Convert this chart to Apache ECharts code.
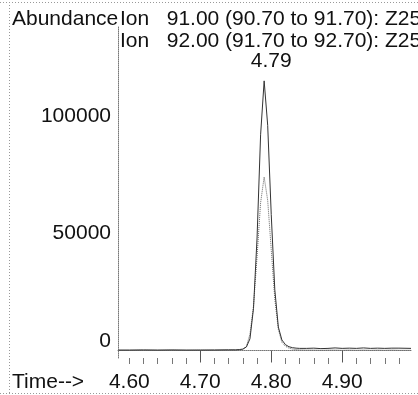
<!DOCTYPE html>
<html>
<head>
<meta charset="utf-8">
<script src="https://cdn.jsdelivr.net/npm/echarts@6/dist/echarts.min.js"></script>
<style>html,body{margin:0;padding:0;background:#fff;}#c{width:418px;height:395px;}</style>
</head>
<body>
<div id="c"></div>
<script>
// Retention time (min)
var times = [4.585, 4.60, 4.62, 4.64, 4.66, 4.68, 4.70, 4.72, 4.74, 4.75, 4.755, 4.76, 4.765, 4.77, 4.775, 4.78, 4.785, 4.79, 4.795, 4.80, 4.805, 4.81, 4.815, 4.82, 4.825, 4.83, 4.835, 4.84, 4.85, 4.86, 4.87, 4.88, 4.89, 4.90, 4.91, 4.92, 4.93, 4.94, 4.95, 4.96, 4.97, 4.98, 4.997];
// Ion 91.00 abundance
var ion91 = [200, 200, 250, 200, 250, 200, 200, 250, 300, 300, 400, 600, 1500, 5000, 18000, 48000, 92000, 115000, 96000, 58000, 26000, 10000, 4500, 2500, 1600, 1200, 1000, 900, 900, 1000, 800, 900, 1100, 900, 1000, 900, 1100, 900, 1000, 900, 1000, 1000, 900];
// Ion 92.00 abundance
var ion92 = [0, 0, 100, 0, 100, 0, 100, 0, 100, 100, 200, 500, 1800, 7000, 19000, 40000, 63000, 74000, 64000, 43000, 22000, 9000, 3500, 1800, 1000, 600, 400, 300, 200, 200, 100, 200, 200, 100, 200, 100, 200, 100, 200, 100, 200, 100, 100];
var peakTime = 4.79;
var peakAbundance = 115000;
var peakLabel = '4.79';
var xLabels = [4.60, 4.70, 4.80, 4.90];
var xMajorTicks = [4.70, 4.80, 4.90];
var xMinorTicks = [4.60, 4.62, 4.64, 4.66, 4.68, 4.72, 4.74, 4.76, 4.78, 4.82, 4.84, 4.86, 4.88, 4.92, 4.94, 4.96, 4.98];
var yLabels = [0, 50000, 100000];
var header1 = 'Ion   91.00 (90.70 to 91.70): Z25';
var header2 = 'Ion   92.00 (91.70 to 92.70): Z25';

var FONT = 'Liberation Sans, Arial, sans-serif';
var FS = 21;
var chart = echarts.init(document.getElementById('c'), null, {renderer: 'canvas'});

var d91 = times.map(function (t, i) { return [t, ion91[i]]; });
var d92 = times.map(function (t, i) { return [t, ion92[i]]; });

var axisCommon = {min: 4.584, max: 4.997, type: 'value', splitLine: {show: false}};
var txt = {fontSize: FS, fontWeight: 'normal', fontFamily: FONT, color: '#111'};

chart.setOption({
  animation: false,
  backgroundColor: '#fff',
  grid: {left: 118, right: 7, top: 26, bottom: 37},
  title: [
    {text: 'Abundance', left: 12, top: 9, textStyle: txt, padding: 0},
    {text: header1, left: 120, top: 9, textStyle: txt, padding: 0},
    {text: header2, left: 120, top: 31, textStyle: txt, padding: 0},
    {text: 'Time-->', left: 12, top: 372, textStyle: txt, padding: 0}
  ],
  xAxis: [
    Object.assign({}, axisCommon, {
      axisLine: {show: true, lineStyle: {color: '#777', type: 'dotted', width: 1}},
      axisTick: {show: true, customValues: xMajorTicks, length: 12, lineStyle: {color: '#555'}},
      axisLabel: {customValues: xLabels, margin: 14, fontSize: FS, fontFamily: FONT, color: '#111',
        formatter: function (v) { return v.toFixed(2); }}
    }),
    Object.assign({}, axisCommon, {
      position: 'bottom',
      axisLine: {show: false},
      axisTick: {show: true, customValues: xMinorTicks, length: 6, lineStyle: {color: '#777'}},
      axisLabel: {show: false}
    })
  ],
  yAxis: {
    type: 'value', min: -3200, max: 138400,
    splitLine: {show: false},
    axisLine: {show: true, lineStyle: {color: '#777', type: 'dotted', width: 1}},
    axisTick: {show: false},
    axisLabel: {customValues: yLabels, margin: 7, fontSize: FS, fontFamily: FONT, color: '#111',
      formatter: function (v) { return v === 0 ? '{z|0}' : String(v); },
      rich: {z: {fontSize: FS, fontFamily: FONT, color: '#111', padding: [0, 0, 18, 0]}}}
  },
  series: [
    {type: 'line', name: 'Ion 92.00', data: d92, symbol: 'none', xAxisIndex: 0,
      lineStyle: {color: '#666', width: 1, type: 'dotted'}, z: 2},
    {type: 'line', name: 'Ion 91.00', data: d91, symbol: 'none', xAxisIndex: 0,
      lineStyle: {color: '#333', width: 1}, z: 3,
      markPoint: {
        symbol: 'circle', symbolSize: 0,
        label: {show: true, position: 'top', distance: 9, offset: [7, 0], formatter: peakLabel,
          fontSize: FS, fontFamily: FONT, color: '#111'},
        data: [{coord: [peakTime, peakAbundance]}]
      }}
  ],
  graphic: [
    {type: 'line', shape: {x1: 0, y1: 2.5, x2: 418, y2: 2.5}, style: {stroke: '#999', lineDash: [1, 2], lineWidth: 1}},
    {type: 'line', shape: {x1: 9.5, y1: 2, x2: 9.5, y2: 393}, style: {stroke: '#999', lineDash: [1, 2], lineWidth: 1}},
    {type: 'line', shape: {x1: 0, y1: 393.5, x2: 418, y2: 393.5}, style: {stroke: '#999', lineDash: [1, 2], lineWidth: 1}}
  ]
});
</script>
</body>
</html>
